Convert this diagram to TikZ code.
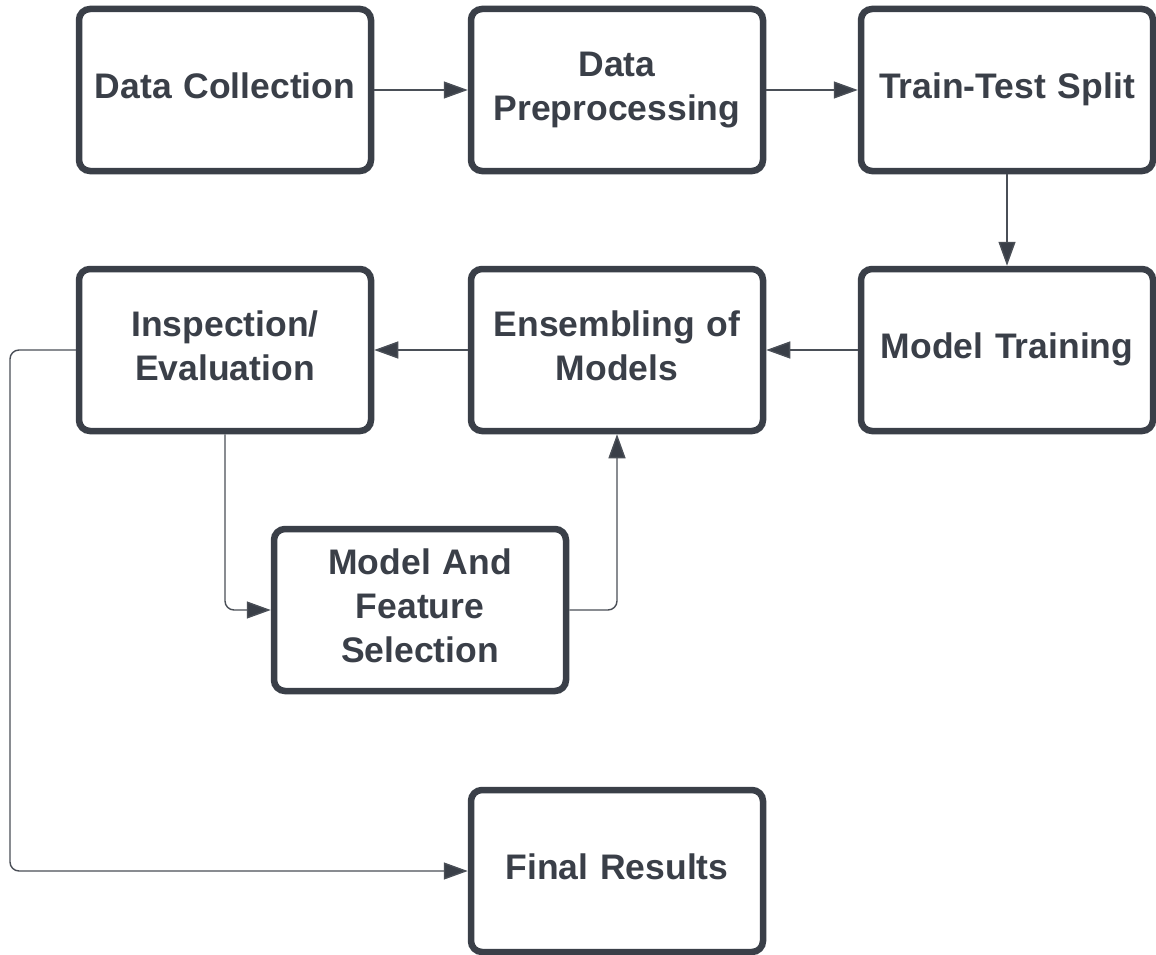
\documentclass[tikz,border=0pt]{standalone}
\usepackage{fontspec}
\setmainfont{Liberation Sans}
\usetikzlibrary{arrows.meta}
\definecolor{boxc}{HTML}{3A3F48}
\definecolor{linec}{HTML}{4A4F57}
\tikzset{
  box/.style={draw=boxc, line width=6.5pt, rounded corners=11pt, fill=white,
    minimum width=292pt, minimum height=162pt, inner sep=2pt,
    text width=288pt, align=center, text=boxc,
    font=\fontsize{35.5}{44}\selectfont\bfseries,
    execute at begin node=\strut, execute at end node=\strut},
  conn/.style={draw=linec, line width=1.4pt, rounded corners=9pt,
    -{Triangle[length=24pt,width=17pt,fill=boxc]}},
}
\begin{document}
\begin{tikzpicture}[x=1pt,y=-1pt]
\useasboundingbox[fill=white] (0,0) rectangle (1156,955);
\node[box] (dc)  at (225,90)  {Data Collection};
\node[box] (dp)  at (617,90)  {Data\\Preprocessing};
\node[box] (tts) at (1007,90) {Train-Test Split};
\node[box] (mt)  at (1007,350) {Model Training};
\node[box] (em)  at (617,350) {Ensembling of\\Models};
\node[box] (ie)  at (225,350) {Inspection/\\Evaluation};
\node[box] (mfs) at (420,610) {Model And\\Feature\\Selection};
\node[box] (fr)  at (617,871) {Final Results};

\draw[conn] (dc.east) -- (dp.west);
\draw[conn] (dp.east) -- (tts.west);
\draw[conn] (tts.south) -- (mt.north);
\draw[conn] (mt.west) -- (em.east);
\draw[conn] (em.west) -- (ie.east);
\draw[conn] (ie.south) |- (mfs.west);
\draw[conn] (mfs.east) -| (em.south);
\coordinate (lc) at (10,350);
\draw[conn] (ie.west) -- (lc) |- (fr.west);
\end{tikzpicture}
\end{document}
